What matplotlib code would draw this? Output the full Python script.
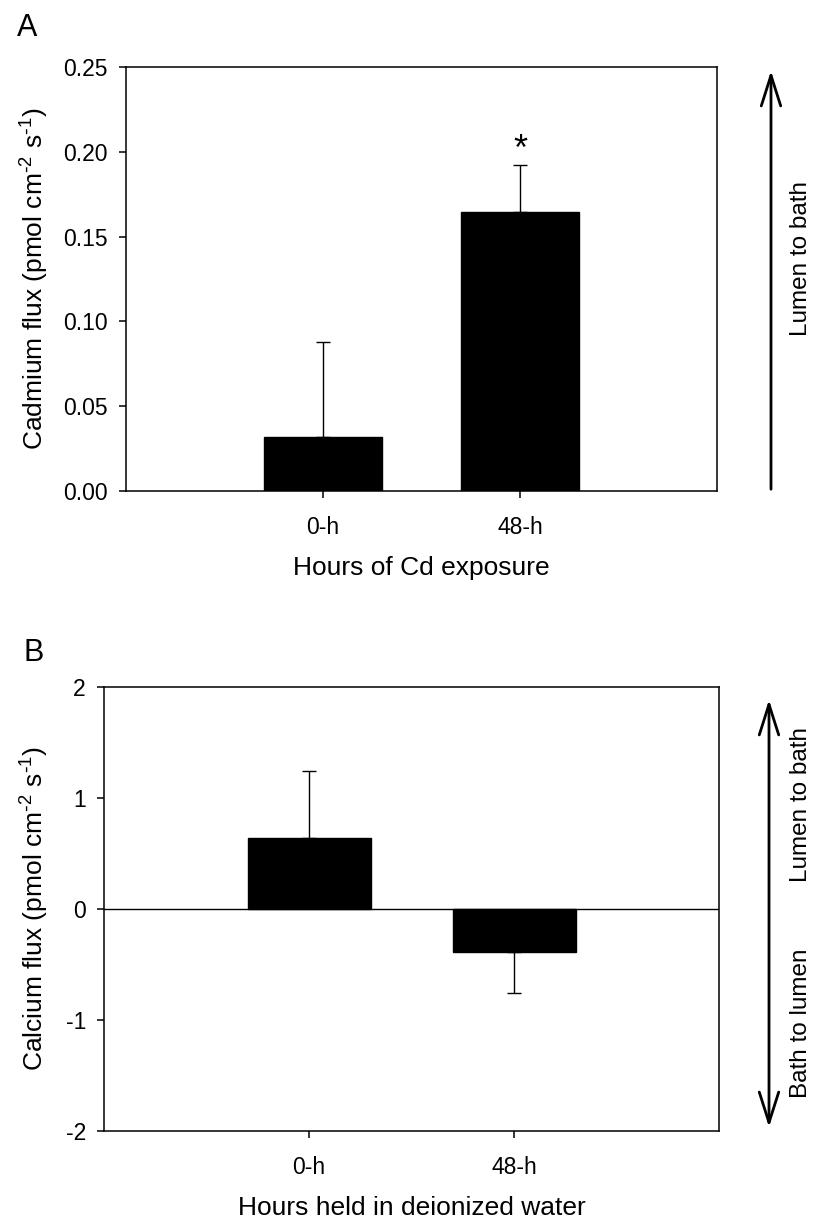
import numpy as np
import matplotlib
matplotlib.use("Agg")
import matplotlib.pyplot as plt

plt.rcParams['font.family'] = ['Liberation Sans', 'DejaVu Sans']
plt.rcParams['mathtext.default'] = 'regular'
plt.rcParams['axes.unicode_minus'] = False

# data
groups = ['0-h', '48-h']
cd_flux = [0.032, 0.1645]
cd_se = [0.056, 0.0275]
ca_flux = [0.637, -0.388]
ca_se = [0.607, 0.369]

W, H = 816, 1222
fig = plt.figure(figsize=(W / 100, H / 100), dpi=100)


def px_axes(left, top, right, bottom):
    return fig.add_axes([left / W, 1 - bottom / H, (right - left) / W, (bottom - top) / H])


def style(ax):
    for s in ax.spines.values():
        s.set_linewidth(1.1)
    ax.tick_params(direction='out', length=5, width=1.1, labelsize=16.5,
                   top=False, right=False)
    ax.tick_params(axis='y', pad=8)
    ax.tick_params(axis='x', pad=13)
    ax.set_xlim(-1, 2)
    ax.set_xticks(range(len(groups)))
    ax.set_xticklabels(groups)


x = np.arange(len(groups))
unit = ' (pmol cm$^{\\text{-}2}$ s$^{\\text{-}1}$)'

# panel A
ax1 = px_axes(126, 67, 717, 491)
ax1.bar(x, cd_flux, width=0.6, color='black', edgecolor='black', zorder=2)
ax1.errorbar(x, cd_flux, yerr=[np.zeros(len(cd_se)), cd_se], fmt='none',
             ecolor='black', elinewidth=1.0, capsize=5, capthick=1.0, zorder=1)
style(ax1)
ax1.set_ylim(0, 0.25)
ax1.set_yticks(np.arange(0, 0.26, 0.05))
ax1.yaxis.set_major_formatter(matplotlib.ticker.FormatStrFormatter('%.2f'))
ax1.set_xlabel('Hours of Cd exposure', fontsize=19, labelpad=12)
ax1.set_ylabel('Cadmium flux' + unit, fontsize=19, va='center')
ax1.yaxis.set_label_coords((35 - 126) / 591, 0.5)
ax1.annotate('*', xy=(1, cd_flux[1] + cd_se[1]), xytext=(0, 4),
             textcoords='offset points', ha='center', va='baseline', fontsize=26)

# panel B
ax2 = px_axes(104, 687, 719, 1131)
ax2.axhline(0, color='black', linewidth=1.0, zorder=3)
ax2.bar(x, ca_flux, width=0.6, color='black', edgecolor='black', zorder=2)
lower = [0 if v > 0 else e for v, e in zip(ca_flux, ca_se)]
upper = [e if v > 0 else 0 for v, e in zip(ca_flux, ca_se)]
ax2.errorbar(x, ca_flux, yerr=[lower, upper], fmt='none',
             ecolor='black', elinewidth=1.0, capsize=5, capthick=1.0, zorder=1)
style(ax2)
ax2.set_ylim(-2, 2)
ax2.set_yticks([-2, -1, 0, 1, 2])
ax2.set_xlabel('Hours held in deionized water', fontsize=19, labelpad=12)
ax2.set_ylabel('Calcium flux' + unit, fontsize=19, va='center')
ax2.yaxis.set_label_coords((35 - 104) / 615, 0.5)

# panel letters
fig.text(17 / W, 1 - 28 / H, 'A', fontsize=22, ha='left', va='center')
fig.text(23 / W, 1 - 653 / H, 'B', fontsize=22, ha='left', va='center')

# direction arrows
arrow_kw = dict(lw=2.0, color='black', mutation_scale=20)
fig.add_artist(matplotlib.patches.FancyArrowPatch(
    (771 / W, 1 - 492 / H), (771 / W, 1 - 68 / H), transform=fig.transFigure,
    arrowstyle='->,head_length=1.1,head_width=0.35', **arrow_kw))
fig.add_artist(matplotlib.patches.FancyArrowPatch(
    (769 / W, 1 - 1130 / H), (769 / W, 1 - 697 / H), transform=fig.transFigure,
    arrowstyle='<->,head_length=1.1,head_width=0.35', **arrow_kw))

fig.text(801 / W, 1 - 258 / H, 'Lumen to bath', rotation=90, fontsize=17.5,
         ha='center', va='center')
fig.text(801 / W, 1 - 805 / H, 'Lumen to bath', rotation=90, fontsize=17.5,
         ha='center', va='center')
fig.text(801 / W, 1 - 1023 / H, 'Bath to lumen', rotation=90, fontsize=17.5,
         ha='center', va='center')

fig.savefig('out.png', dpi=100)
